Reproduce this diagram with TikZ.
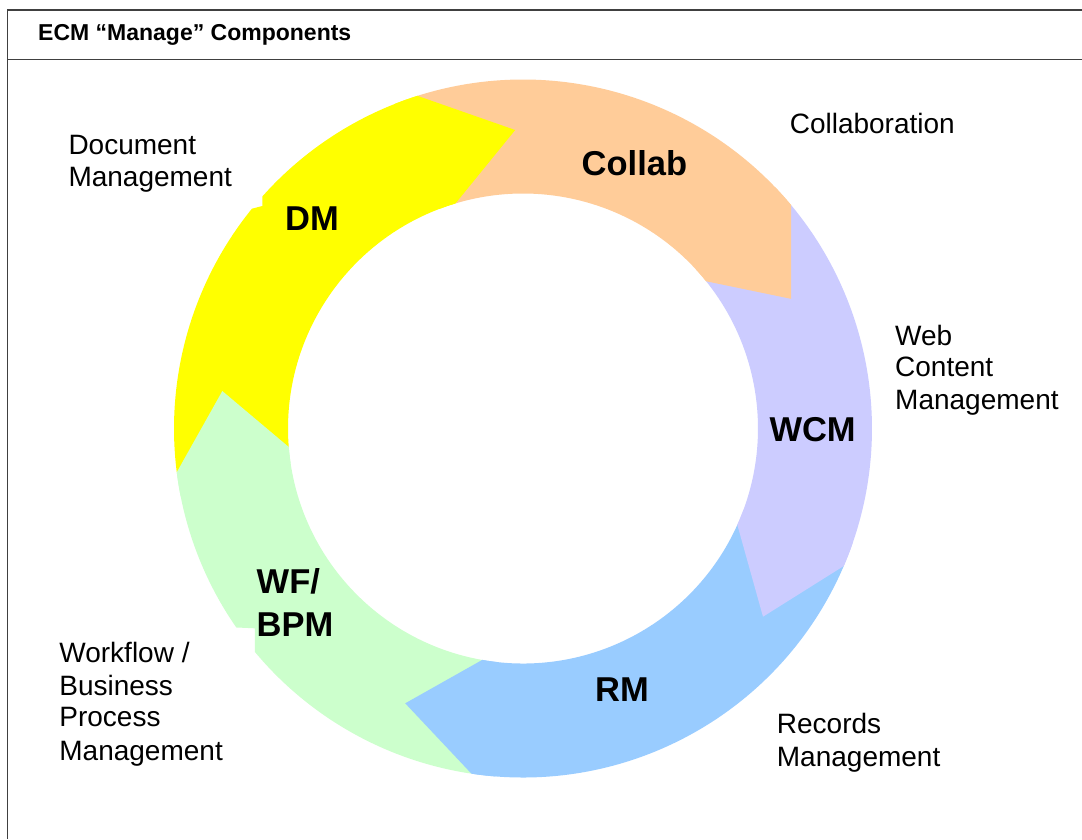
\documentclass[tikz,border=0pt]{standalone}
\usepackage{fontspec}
\setmainfont{Liberation Sans}
\definecolor{segyellow}{HTML}{FFFF00}
\definecolor{segpeach}{HTML}{FFCC99}
\definecolor{segpurple}{HTML}{CCCCFF}
\definecolor{segblue}{HTML}{99CCFF}
\definecolor{seggreen}{HTML}{CCFFCC}
\definecolor{framecol}{HTML}{404040}
\tikzset{
  framestyle/.style={draw=framecol, line width=1.6pt},
  desclabel/.style={font=\fontsize{28}{32}\selectfont, anchor=base west, inner sep=0pt, text=black},
  seglabel/.style={font=\fontsize{34.5}{40}\selectfont\bfseries, anchor=base west, inner sep=0pt, text=black},
  headlabel/.style={font=\fontsize{23}{27}\selectfont\bfseries, anchor=base west, inner sep=0pt, text=black}
}
% head: colour, outer base angle, tip angle, tip radius, inner base angle
\newcommand{\ringhead}[5]{%
  \fill[#1] ({#2+4}:349) arc[start angle={#2+4},end angle=#2,radius=349]
    -- (#3:#4) -- (#5:235) arc[start angle=#5,end angle={#5+4},radius=235] -- cycle;}
\begin{document}
\begin{tikzpicture}[x=1pt,y=1pt]
\useasboundingbox (0,0) rectangle (1082,-839);
\fill[white] (0,0) rectangle (1082,-839);
% frame
\draw[framestyle] (7.6,-839) -- (7.6,-10) -- (1082,-10);
\draw[framestyle] (7.6,-59.3) -- (1082,-59.3);
\node[headlabel] (head) at (38,-40) {ECM “Manage” Components};
% ring
\begin{scope}[shift={(523,-428.5)}]
  % bodies
  \fill[segyellow] (187.2:349) arc[start angle=187.2,end angle=140.95,radius=349]
     -- (-260.6,222.5) -- (138.3:349) arc[start angle=138.3,end angle=107.6,radius=349]
     -- (106.7:235) arc[start angle=106.7,end angle=184.5,radius=235] -- cycle;
  \fill[segpeach] (107.6:349) arc[start angle=107.6,end angle=39.8,radius=349]
     -- (38.8:235) arc[start angle=38.8,end angle=106.7,radius=235] -- cycle;
  \fill[segpurple] (39.8:349) arc[start angle=39.8,end angle=-23.2,radius=349]
     -- (-24.2:235) arc[start angle=-24.2,end angle=38.8,radius=235] -- cycle;
  \fill[segblue] (-23.2:349) arc[start angle=-23.2,end angle=-98.5,radius=349]
     -- (-100:235) arc[start angle=-100,end angle=-24.2,radius=235] -- cycle;
  \fill[seggreen] (-98.5:349) arc[start angle=-98.5,end angle=-140.2,radius=349]
     -- (-268.2,-199.8) -- (-145.24:349) arc[start angle=-145.24,end angle=-172.8,radius=349]
     -- (-175.5:235) arc[start angle=-175.5,end angle=-100,radius=235] -- cycle;
  % arrow heads (overlapping their own body a little, so that no seam shows)
  \ringhead{segyellow}{107.6}{91.5}{298.6}{106.7}
  \ringhead{segpeach}{39.8}{25.8}{297.9}{38.8}
  \ringhead{segpurple}{-23.2}{-38.1}{305}{-24.2}
  \ringhead{segblue}{-98.5}{-113.2}{299}{-100}
  \ringhead{seggreen}{-172.8}{-187.1}{303}{-175.5}
\end{scope}
% segment labels
\node[seglabel] (dm) at (285,-230.7) {DM};
\node[seglabel] (collab) at (581.5,-175) {Collab};
\node[seglabel] (wcm) at (769.3,-441.7) {WCM};
\node[seglabel] (rm) at (595,-701.7) {RM};
\node[seglabel] (wf1) at (256.5,-593.3) {WF/};
\node[seglabel] (wf2) at (256.5,-636.7) {BPM};
% descriptions
\node[desclabel] (doc1) at (68.3,-154) {Document};
\node[desclabel] (doc2) at (68.3,-186) {Management};
\node[desclabel] (col1) at (789.6,-133.3) {Collaboration};
\node[desclabel] (web1) at (895,-345) {Web};
\node[desclabel] (web2) at (895,-376.7) {Content};
\node[desclabel] (web3) at (895,-409.3) {Management};
\node[desclabel] (rec1) at (776.7,-733.3) {Records};
\node[desclabel] (rec2) at (776.7,-766.7) {Management};
\node[desclabel] (wfd1) at (59.2,-662.7) {Workflow /};
\node[desclabel] (wfd2) at (59.2,-695) {Business};
\node[desclabel] (wfd3) at (59.2,-726.7) {Process};
\node[desclabel] (wfd4) at (59.2,-760) {Management};
\end{tikzpicture}
\end{document}
